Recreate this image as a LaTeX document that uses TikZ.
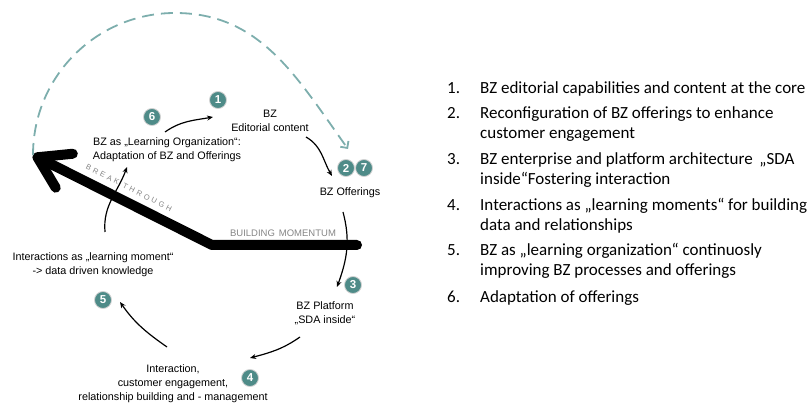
\documentclass[tikz,border=0pt]{standalone}
\usepackage{fontspec}
\setmainfont{Liberation Sans}
\newfontfamily\listfont{Carlito}
\usetikzlibrary{arrows.meta}
\definecolor{tealdark}{HTML}{4E8B88}
\definecolor{teallight}{HTML}{7DAEAD}
\definecolor{labelgray}{HTML}{858585}

\begin{document}
\begin{tikzpicture}[x=1pt,y=1pt,
  num/.style={circle, fill=tealdark, draw=gray!35, line width=0.8pt,
    minimum size=17pt, inner sep=0pt, text=white,
    font=\fontsize{11.5}{11.5}\selectfont\bfseries},
  lbl/.style={align=center, inner sep=0pt, font=\fontsize{10.8}{14}\selectfont},
  flow/.style={line width=1.2pt, -{Stealth[length=6pt,width=5pt]}},
  road/.style={line width=10pt, line join=round, line cap=round},
  roadtext/.style={text=labelgray, inner sep=0pt},
  itemnum/.style={anchor=base west, inner sep=0pt, font=\listfont\fontsize{17}{19.5}\selectfont},
  itemtext/.style={anchor=base west, inner sep=0pt, align=left, font=\listfont\fontsize{17}{19.5}\selectfont},
]
\useasboundingbox (0,0) rectangle (811,407);

% numbered markers
\node[num] (c1) at (218,307) {1};
\node[num] (c6) at (152,290) {6};
\node[num] (c2) at (346,239) {2};
\node[num] (c7) at (364,239) {7};
\node[num] (c3) at (353,122) {3};
\node[num] (c5) at (103,107) {5};
\node[num] (c4) at (250,29) {4};

% stage labels
\node[lbl] (editorial) at (270,286) {BZ\\Editorial content};
\node[lbl] (learnorg) at (167,257) {BZ as „Learning Organization“:\\Adaptation of BZ and Offerings};
\node[lbl] (offerings) at (350,214) {BZ Offerings};
\node[lbl] (platform) at (325,94) {BZ Platform\\„SDA inside“};
\node[lbl] (interaction) at (173,23) {Interaction,\\customer engagement,\\relationship building and - management};
\node[lbl] (moment) at (93,142) {Interactions as „learning moment“\\-> data driven knowledge};

% thick momentum arrow
\coordinate (roadend) at (357,162);
\coordinate (roadbend) at (212,162);
\coordinate (tip) at (33,252);
\draw[road, -{Straight Barb[length=30pt,width=38pt,round]}] (roadend) -- (roadbend) -- (tip);
\node[roadtext, font=\fontsize{9.5}{9.5}\selectfont] (building) at (283,174) {BUILDING\hspace{4pt}MOMENTUM};
\node[roadtext, rotate=-27, font=\fontsize{7.5}{7.5}\selectfont\addfontfeature{LetterSpace=36}] (breakthrough) at (129,219) {BREAK\hspace{5pt}THROUGH};

% dashed return loop
\coordinate (arcend) at (348,258);
\draw[teallight, line width=1.8pt, dash pattern=on 12pt off 7pt,
  -{Straight Barb[length=5pt,width=10pt]}]
  (tip) .. controls (33,331) and (97,394) .. (175,394)
        .. controls (260,394) and (296,331) .. (arcend);

% cycle connectors
\coordinate (a1s) at (165,275); \coordinate (a1e) at (213,290);
\coordinate (a2s) at (306,270); \coordinate (a2e) at (332,231);
\coordinate (a3s) at (343,195); \coordinate (a3e) at (337,120);
\coordinate (a4s) at (300,70);  \coordinate (a4e) at (250,49);
\coordinate (a5s) at (167,60);  \coordinate (a5e) at (120,105);
\coordinate (a6s) at (105,175); \coordinate (a6e) at (127,240);
\draw[flow] (a1s) to[out=35,in=190] (a1e);
\draw[flow] (a2s) to[out=-30,in=120] (a2e);
\draw[flow] (a3s) to[out=-75,in=70] (a3e);
\draw[flow] (a4s) to[out=215,in=15] (a4e);
\draw[flow] (a5s) to[out=145,in=-55] (a5e);
\draw[flow] (a6s) to[out=95,in=-110] (a6e);

% numbered list (multi-line entries sit on the baseline of their last line)
\node[itemnum] (n1) at (447,313) {1.};
\node[itemtext] (t1) at (480,313) {BZ editorial capabilities and content at the core};
\node[itemnum] (n2) at (447,288) {2.};
\node[itemtext] (t2) at (480,268.5) {Reconfiguration of BZ offerings to enhance\\customer engagement};
\node[itemnum] (n3) at (447,242) {3.};
\node[itemtext] (t3) at (480,222.5) {BZ enterprise and platform architecture \,„SDA\\inside“Fostering interaction};
\node[itemnum] (n4) at (447,196) {4.};
\node[itemtext] (t4) at (480,176.5) {Interactions as „learning moments“ for building\\data and relationships};
\node[itemnum] (n5) at (447,151) {5.};
\node[itemtext] (t5) at (480,131.5) {BZ as „learning organization“ continuosly\\improving BZ processes and offerings};
\node[itemnum] (n6) at (447,104) {6.};
\node[itemtext] (t6) at (480,104) {Adaptation of offerings};
\end{tikzpicture}
\end{document}
